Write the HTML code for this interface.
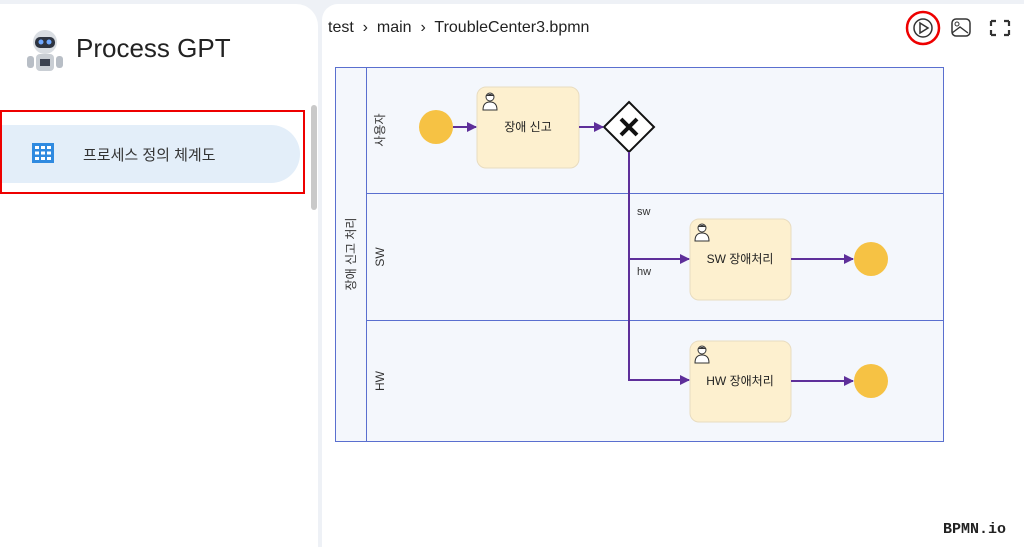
<!DOCTYPE html>
<html><head><meta charset="utf-8"><style>
body{margin:0;width:1024px;height:547px;background:#eef1f6;font-family:"Liberation Sans","Noto Sans CJK KR",sans-serif;overflow:hidden;position:relative}
.card{position:absolute;background:#fff}
</style></head><body>
<div class="card" style="left:0;top:4px;width:318px;height:543px;border-radius:0 22px 0 0"></div>
<div class="card" style="left:322px;top:4px;width:702px;height:543px;border-radius:16px 0 0 0"></div>
<!-- robot -->
<svg style="position:absolute;left:24px;top:28px" width="42" height="46">
<circle cx="21" cy="14" r="12" fill="#d9dde2"/><rect x="11" y="9" width="20" height="11" rx="5" fill="#2e3440"/>
<circle cx="17" cy="14" r="2.5" fill="#6fa8ff"/><circle cx="25" cy="14" r="2.5" fill="#6fa8ff"/>
<rect x="12" y="26" width="18" height="17" rx="4" fill="#c9ced4"/><rect x="16" y="31" width="10" height="7" fill="#3b4250"/>
<rect x="3" y="28" width="7" height="12" rx="3" fill="#b8bec6"/><rect x="32" y="28" width="7" height="12" rx="3" fill="#b8bec6"/></svg>
<div style="position:absolute;left:76px;top:33px;font-size:26px;color:#222">Process GPT</div>
<div style="position:absolute;left:0;top:125px;width:300px;height:58px;background:#e3eef9;border-radius:0 29px 29px 0"></div>
<div style="position:absolute;left:0;top:110px;width:305px;height:84px;border:2px solid #e00;box-sizing:border-box"></div>
<div style="position:absolute;left:311px;top:105px;width:6px;height:105px;background:#c9c9c9;border-radius:3px"></div>
<svg style="position:absolute;left:32px;top:143px" width="22" height="20"><rect width="22" height="20" fill="#2f8ae0"/>
<g fill="#fff"><rect x="3" y="3" width="4" height="3"/><rect x="9" y="3" width="4" height="3"/><rect x="15" y="3" width="4" height="3"/><rect x="3" y="8.5" width="4" height="3"/><rect x="9" y="8.5" width="4" height="3"/><rect x="15" y="8.5" width="4" height="3"/><rect x="3" y="14" width="4" height="3"/><rect x="9" y="14" width="4" height="3"/><rect x="15" y="14" width="4" height="3"/></g></svg>
<div style="position:absolute;left:83px;top:144px;font-size:15px;color:#333">프로세스 정의 체계도</div>
<div style="position:absolute;left:328px;top:19px;font-size:16px;color:#222">test &nbsp;›&nbsp; main &nbsp;›&nbsp; TroubleCenter3.bpmn</div>
<svg style="position:absolute;left:900px;top:6px" width="124" height="44">
<circle cx="23" cy="22" r="16" fill="none" stroke="#e00" stroke-width="2.5"/>
<circle cx="23" cy="22" r="9" fill="none" stroke="#333" stroke-width="1.5"/><path d="M20 17 L28 22 L20 27Z" fill="none" stroke="#333" stroke-width="1.5"/>
<rect x="52" y="13" width="18" height="17" rx="4" fill="none" stroke="#333" stroke-width="1.5"/><circle cx="57" cy="18" r="2" fill="none" stroke="#333"/><path d="M52 27 L60 21 L68 27" fill="none" stroke="#333" stroke-width="1.4"/>
<path d="M91 15h5M91 15v5M109 15h-5M109 15v5M91 29h5M91 29v-5M109 29h-5M109 29v-5" stroke="#333" stroke-width="2.2"/></svg>
<svg style="position:absolute;left:0;top:0" width="1024" height="547">
<defs><marker id="a" markerWidth="10" markerHeight="10" refX="9" refY="5" orient="auto" markerUnits="userSpaceOnUse"><path d="M0 0L10 5L0 10Z" fill="#5e2f9a"/></marker>
<g id="u"><circle cx="8" cy="5" r="4" fill="#fff" stroke="#333"/><path d="M4 4 Q8 0 12 4" fill="#333"/><path d="M1 18 Q1 10 8 10 Q15 10 15 18Z" fill="#fff" stroke="#333"/></g></defs>
<rect x="335.5" y="67.5" width="608" height="374" fill="#f4f7fc" stroke="#5a6fcf"/>
<line x1="366.5" y1="67" x2="366.5" y2="441" stroke="#5a6fcf"/>
<line x1="366" y1="193.5" x2="943" y2="193.5" stroke="#5a6fcf"/>
<line x1="366" y1="320.5" x2="943" y2="320.5" stroke="#5a6fcf"/>
<g font-size="12" fill="#333" text-anchor="middle">
<text transform="translate(355,254) rotate(-90)">장애 신고 처리</text>
<text transform="translate(384,130) rotate(-90)">사용자</text>
<text transform="translate(384,257) rotate(-90)">SW</text>
<text transform="translate(384,381) rotate(-90)">HW</text></g>
<circle cx="436" cy="127" r="17" fill="#f6c244"/>
<circle cx="871" cy="259" r="17" fill="#f6c244"/>
<circle cx="871" cy="381" r="17" fill="#f6c244"/>
<g fill="#fdf0cf" stroke="#e8dcc0"><rect x="477" y="87" width="102" height="81" rx="9"/><rect x="690" y="219" width="101" height="81" rx="9"/><rect x="690" y="341" width="101" height="81" rx="9"/></g>
<use href="#u" x="482" y="92"/><use href="#u" x="694" y="223"/><use href="#u" x="694" y="345"/>
<g font-size="12" fill="#222" text-anchor="middle"><text x="528" y="131">장애 신고</text><text x="740" y="263">SW 장애처리</text><text x="740" y="385">HW 장애처리</text></g>
<path d="M629 102 L654 127 L629 152 L604 127Z" fill="#fff" stroke="#111" stroke-width="2"/>
<path d="M621 119L637 135M637 119L621 135" stroke="#111" stroke-width="4"/>
<g stroke="#5e2f9a" stroke-width="2" fill="none">
<line x1="453" y1="127" x2="476" y2="127" marker-end="url(#a)"/>
<line x1="579" y1="127" x2="603" y2="127" marker-end="url(#a)"/>
<path d="M629 152 V259 H689" marker-end="url(#a)"/>
<path d="M629 259 V380 H689" marker-end="url(#a)"/>
<line x1="791" y1="259" x2="853" y2="259" marker-end="url(#a)"/>
<line x1="791" y1="381" x2="853" y2="381" marker-end="url(#a)"/></g>
<g font-size="11" fill="#333"><text x="637" y="215">sw</text><text x="637" y="275">hw</text></g>
<text x="943" y="533" font-size="15" font-weight="bold" fill="#222" font-family="Liberation Mono,monospace">BPMN.io</text>
</svg>
</body></html>
